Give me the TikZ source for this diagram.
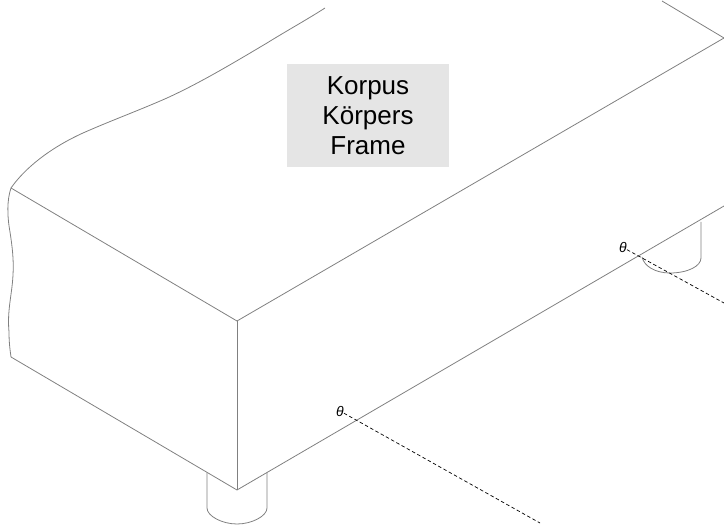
\documentclass[tikz,border=0pt]{standalone}
\usepackage{fontspec}
\setmainfont{Liberation Sans}
\tikzset{
  edge line/.style={draw=black!50, line width=0.8pt},
  axis line/.style={draw=black, line width=0.7pt, dash pattern=on 3.5pt off 2.5pt},
  mark label/.style={font=\itshape\fontsize{14}{14}\selectfont, inner sep=0pt},
  title box/.style={fill=black!10, minimum width=162pt, minimum height=103pt, inner sep=0pt, align=center, font=\fontsize{26}{30}\selectfont}
}
\begin{document}
\begin{tikzpicture}[x=1pt,y=-1pt]
\useasboundingbox (0,0) rectangle (724,526);
\coordinate (tl) at (11,188);
\coordinate (bl) at (11,357);
\coordinate (ft) at (237,321);
\coordinate (fb) at (237,490);
\coordinate (tr) at (724,38);
\coordinate (br) at (724,206);
% frame
\draw[edge line] (tl) -- (ft) -- (tr);
\draw[edge line] (bl) -- (fb) -- (br);
\draw[edge line] (ft) -- (fb);
\draw[edge line] (662,1) -- (tr);
% top break curve
\draw[edge line] (tl) .. controls (25,168) and (50,148) .. (83,133)
  .. controls (110,121) and (140,110) .. (167,98)
  .. controls (200,83) and (235,62) .. (267,43)
  .. controls (288,30) and (308,19) .. (325,8);
% left break curve
\draw[edge line] (tl) .. controls (7,200) and (7,215) .. (10,232)
  .. controls (12,245) and (14,260) .. (13,275)
  .. controls (12,295) and (7,310) .. (9,332)
  .. controls (9,342) and (10,350) .. (bl);
% left foot
\draw[edge line] (207,473) -- (207,508) .. controls (207,516) and (222,524) .. (237,524)
  .. controls (252,524) and (267,516) .. (267,508) -- (267,473);
% right foot
\draw[edge line] (701,222) -- (701,258) .. controls (701,266) and (688,273) .. (670,273)
  .. controls (655,273) and (644,266) .. (642,257);
% label box
\node[title box] (box) at (368,115.5) {Korpus\\Körpers\\Frame};
% marks and axes
\node[mark label] (m1) at (340,411) {θ};
\node[mark label] (m2) at (623,247.5) {θ};
\coordinate (e1) at (540,523);
\coordinate (e2) at (724,303);
\draw[axis line] (m1) -- (e1);
\draw[axis line] (m2) -- (e2);
\end{tikzpicture}
\end{document}
